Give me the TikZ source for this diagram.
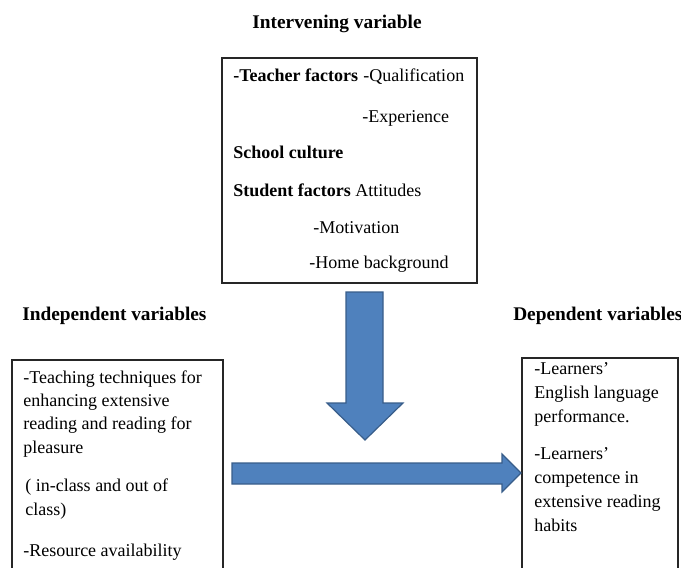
\documentclass[tikz,border=0pt]{standalone}
\usepackage{fontspec}
\setmainfont{Liberation Serif}
\definecolor{arrowfill}{RGB}{79,129,189}
\definecolor{arrowedge}{RGB}{56,93,138}

\begin{document}
\begin{tikzpicture}[x=0.75pt,y=-0.75pt,
  boxline/.style={draw=black!85, line width=1.1pt},
  bodytext/.style={font=\fontsize{13.5}{17.5}\selectfont, inner sep=0pt, anchor=base west, align=left},
  widetext/.style={bodytext, font=\fontsize{13.5}{18}\selectfont},
  boldtext/.style={bodytext, font=\fontsize{13.5}{17.5}\selectfont\bfseries},
  headtext/.style={font=\fontsize{14.5}{17}\selectfont\bfseries, inner sep=0pt, anchor=base west},
  blockarrow/.style={fill=arrowfill, draw=arrowedge, line width=0.9pt, line join=miter}]

  % Fix the frame of the picture (the side boxes run past the bottom)
  \useasboundingbox (0,0) rectangle (681,567);
  \clip (0,0) rectangle (681,567);

  % Headings
  \node[headtext, anchor=base] (intervhead) at (337,29) {Intervening variable};
  \node[headtext] (indephead) at (22,320) {Independent variables};
  \node[headtext] (dephead) at (513,320) {Dependent variables};

  % Intervening box
  \draw[boxline] (222,58) rectangle (477,283);
  \node[boldtext] (teacher) at (233,82) {-Teacher factors};
  \node[bodytext] (qualif) at (363,82) {-Qualification};
  \node[bodytext] (exper) at (362,122) {-Experience};
  \node[boldtext] (school) at (233,158) {School culture};
  \node[boldtext] (student) at (233,196) {Student factors};
  \node[bodytext] (attit) at (355,196) {Attitudes};
  \node[bodytext] (motiv) at (313,233) {-Motivation};
  \node[bodytext] (home) at (309,268) {-Home background};

  % Independent box (open at the bottom); base of a text is its last line
  \draw[boxline] (12,600) |- (223,360) -- (223,600);
  \node[bodytext] (techn) at (23,453) {-Teaching techniques for\\enhancing extensive\\reading and reading for\\pleasure};
  \node[bodytext] (inclass) at (25,515) {( in-class and out of\\class)};
  \node[bodytext] (resource) at (23,556) {-Resource availability};

  % Dependent box (open at the bottom)
  \draw[boxline] (522,600) |- (678,358) -- (678,600);
  \node[widetext] (perform) at (534,422) {-Learners’\\English language\\performance.};
  \node[widetext] (compet) at (534,531) {-Learners’\\competence in\\extensive reading\\habits};

  % Down arrow from the intervening variable
  \coordinate (D) at (365,440);
  \draw[blockarrow] (346,292) -- (383,292) -- (383,403) -- (403,403) -- (D)
    -- (327,403) -- (346,403) -- cycle;

  % Right arrow towards the dependent variables
  \coordinate (R) at (521,473);
  \draw[blockarrow] (232,463) -- (502,463) -- (502,454) -- (R)
    -- (502,492) -- (502,484) -- (232,484) -- cycle;

\end{tikzpicture}
\end{document}
